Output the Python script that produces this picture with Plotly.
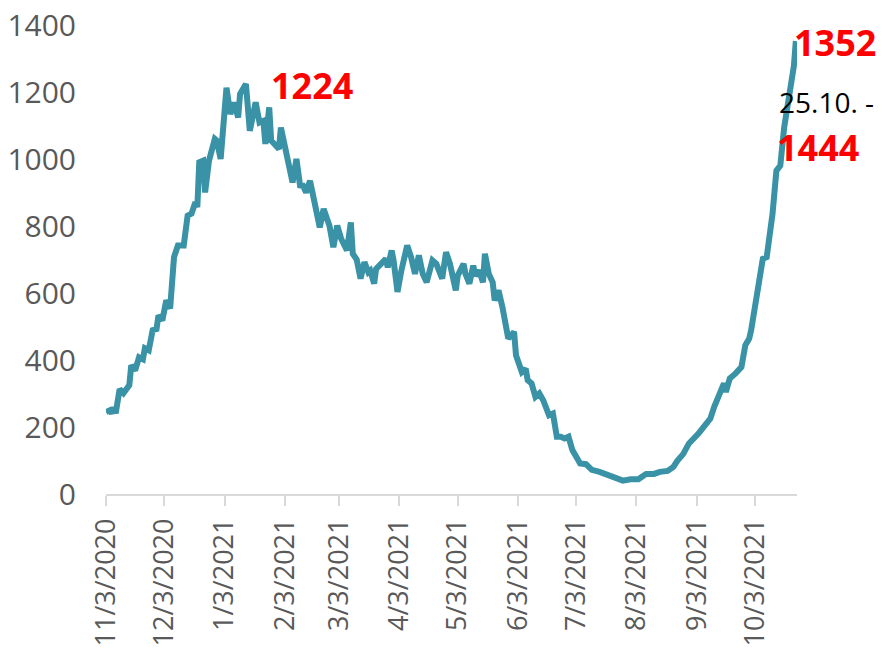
import pandas as pd
import plotly.graph_objects as go

# Days since 3 Nov 2020 and the plotted daily values
day_offsets = [0, 2, 3, 4, 5, 7, 9, 12, 13, 15, 17, 19, 20, 22, 24, 26, 27, 29, 31, 33,
               35, 37, 40, 42, 44, 46, 47, 48, 50, 51, 53, 55, 56, 57, 59, 62, 64, 66, 68, 69,
               72, 74, 77, 79, 81, 82, 84, 85, 87, 89, 90, 93, 96, 98, 100, 101, 103, 105, 108, 110,
               112, 114, 115, 117, 119, 121, 124, 126, 127, 129, 131, 133, 135, 136, 138, 139, 142, 144, 145, 147,
               148, 150, 152, 155, 157, 159, 161, 163, 165, 168, 170, 173, 175, 177, 180, 181, 184, 185, 187, 189,
               190, 192, 194, 195, 197, 199, 200, 202, 204, 205, 207, 210, 211, 214, 216, 217, 219, 221, 223, 225,
               228, 230, 232, 234, 236, 238, 240, 242, 244, 247, 250, 254, 258, 263, 266, 270, 274, 276, 278, 282,
               285, 289, 292, 294, 297, 300, 302, 304, 305, 307, 311, 313, 316, 318, 319, 321, 324, 326, 327, 329,
               331, 332, 334, 336, 338, 340, 342, 343, 345, 347, 349, 350, 352, 353, 354, 355]
values = [245, 250, 241, 258, 241, 313, 301, 325, 384, 369, 408, 402, 435, 429, 489, 492, 533, 518, 578, 554,
          707, 742, 742, 831, 837, 871, 856, 990, 995, 900, 995, 1040, 1060, 1055, 1000, 1213, 1134, 1169, 1124, 1194,
          1224, 1084, 1169, 1109, 1114, 1045, 1154, 1055, 1045, 1030, 1094, 1005, 930, 1000, 915, 925, 900, 935, 846, 796,
          851, 806, 801, 737, 801, 762, 727, 811, 717, 700, 643, 692, 662, 667, 628, 672, 687, 702, 677, 727,
          697, 603, 667, 742, 707, 657, 712, 657, 632, 697, 687, 643, 722, 687, 608, 652, 687, 657, 628, 682,
          652, 667, 632, 717, 657, 632, 578, 608, 558, 530, 464, 484, 414, 364, 374, 340, 330, 290, 300, 280,
          235, 240, 171, 171, 166, 171, 131, 111, 91, 89, 72, 66, 57, 47, 40, 44, 44, 52, 60, 60,
          66, 69, 81, 99, 119, 151, 163, 171, 181, 196, 225, 260, 300, 330, 305, 345, 360, 374, 379, 444,
          464, 489, 558, 618, 702, 707, 796, 836, 965, 980, 1094, 1129, 1204, 1253, 1278, 1352]

tick_dates = ["2020-11-03", "2020-12-03", "2021-01-03", "2021-02-03", "2021-03-03", "2021-04-03",
              "2021-05-03", "2021-06-03", "2021-07-03", "2021-08-03", "2021-09-03", "2021-10-03"]
tick_labels = ["11/3/2020", "12/3/2020", "1/3/2021", "2/3/2021", "3/3/2021", "4/3/2021",
               "5/3/2021", "6/3/2021", "7/3/2021", "8/3/2021", "9/3/2021", "10/3/2021"]

peak_label = "1224"
last_label = "1352"
forecast_text = "25.10. -"
forecast_value = "1444"

start = pd.Timestamp("2020-11-03")
dates = start + pd.to_timedelta(day_offsets, unit="D")

fig = go.Figure()
fig.add_trace(go.Scatter(
    x=dates, y=values, mode="lines",
    line=dict(color="#3A92A6", width=6),
    hoverinfo="skip", showlegend=False,
))

y_tick_font = dict(family="Open Sans", size=30, color="#595959")
x_tick_font = dict(family="Open Sans", size=27, color="#595959")
# page body adds an 8px offset, so the figure is 8px smaller and margins shifted
fig.update_layout(
    width=877, height=644,
    margin=dict(l=98, r=88, t=17, b=158, autoexpand=False),
    paper_bgcolor="white", plot_bgcolor="white",
    font=y_tick_font,
    xaxis=dict(
        range=[start, start + pd.Timedelta(days=355.6)],
        tickvals=pd.to_datetime(tick_dates), ticktext=tick_labels,
        tickangle=-90, ticks="outside", ticklen=10, tickwidth=1.5, tickcolor="#D9D9D9",
        showline=True, linecolor="#D9D9D9", linewidth=1.5,
        showgrid=False, zeroline=False, ticklabelstandoff=2, automargin=False,
        ticklabeloverflow="allow", tickfont=x_tick_font,
    ),
    yaxis=dict(
        range=[0, 1400], dtick=200, showgrid=False, zeroline=False, showline=False,
        ticks="", ticklabelstandoff=29, automargin=False,
        ticklabeloverflow="allow", tickfont=y_tick_font,
    ),
)

red_font = dict(family="Open Sans", size=36, color="#FF0000", weight="bold")
fig.add_annotation(xref="paper", yref="paper", x=0.2974, y=0.870, text=f"<b>{peak_label}</b>",
                   showarrow=False, font=red_font, xanchor="center", yanchor="middle")
fig.add_annotation(xref="paper", yref="paper", x=1.055, y=0.9627, text=f"<b>{last_label}</b>",
                   showarrow=False, font=red_font, xanchor="center", yanchor="middle")
fig.add_annotation(xref="paper", yref="paper", x=1.0434, y=0.8348, text=forecast_text,
                   showarrow=False, font=dict(family="Open Sans", size=28, color="#000000"),
                   xanchor="center", yanchor="middle")
fig.add_annotation(xref="paper", yref="paper", x=1.0311, y=0.7388, text=f"<b>{forecast_value}</b>",
                   showarrow=False, font=red_font, xanchor="center", yanchor="middle")

fig.write_html("out.html")
